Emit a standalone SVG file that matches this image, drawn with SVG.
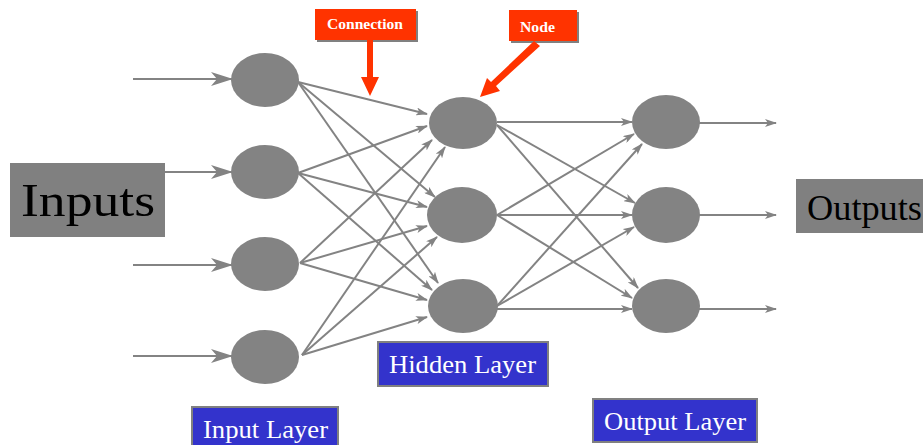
<svg xmlns="http://www.w3.org/2000/svg" width="923" height="445" viewBox="0 0 923 445">
  <style>
    .node { fill: #838383; }
    .link { stroke: #838383; stroke-width: 2; fill: none; }
    .label-box { fill: #808080; }
    .big { font-family: "Liberation Serif", serif; fill: #000; }
    .layer { fill: #3333CC; stroke: #808080; stroke-width: 2; }
    .layer-text { font-family: "Liberation Serif", serif; font-size: 25px; fill: #fff; }
    .callout { fill: #FF3300; }
    .callout-text { font-family: "Liberation Serif", serif; font-size: 14px; font-weight: bold; fill: #fff; }
  </style>
  <defs>
    <marker id="arrow" viewBox="0 0 12 8" refX="11" refY="4" markerWidth="12" markerHeight="8" markerUnits="userSpaceOnUse" orient="auto">
      <path d="M0,0 L12,4 L0,8 L3,4 z" fill="#838383"/>
    </marker>
    <marker id="barb" viewBox="0 0 22 14" refX="21" refY="7" markerWidth="22" markerHeight="14" markerUnits="userSpaceOnUse" orient="auto">
      <path d="M0,0 L22,7 L0,14 L6,7 z" fill="#838383"/>
    </marker>
  </defs>

  <rect width="923" height="445" fill="#fff"/>

  <!-- connectors -->
  <g id="connectors">
    <!-- external inputs -->
    <line class="link" x1="133" y1="79" x2="232" y2="79" marker-end="url(#barb)"/>
    <line class="link" x1="133" y1="172" x2="232" y2="172" marker-end="url(#barb)"/>
    <line class="link" x1="133" y1="265" x2="232" y2="265" marker-end="url(#barb)"/>
    <line class="link" x1="133" y1="356" x2="232" y2="356" marker-end="url(#barb)"/>
    <!-- input layer to hidden layer -->
    <line class="link" x1="298" y1="82" x2="427" y2="114" marker-end="url(#arrow)"/>
    <line class="link" x1="298" y1="82" x2="435" y2="197" marker-end="url(#arrow)"/>
    <line class="link" x1="298" y1="82" x2="438" y2="283" marker-end="url(#arrow)"/>
    <line class="link" x1="298" y1="173" x2="427" y2="126" marker-end="url(#arrow)"/>
    <line class="link" x1="298" y1="173" x2="427" y2="207" marker-end="url(#arrow)"/>
    <line class="link" x1="298" y1="173" x2="432" y2="290" marker-end="url(#arrow)"/>
    <line class="link" x1="300" y1="263" x2="432" y2="140" marker-end="url(#arrow)"/>
    <line class="link" x1="300" y1="263" x2="427" y2="226" marker-end="url(#arrow)"/>
    <line class="link" x1="300" y1="263" x2="427" y2="300" marker-end="url(#arrow)"/>
    <line class="link" x1="302" y1="355" x2="445" y2="147" marker-end="url(#arrow)"/>
    <line class="link" x1="302" y1="355" x2="437" y2="237" marker-end="url(#arrow)"/>
    <line class="link" x1="302" y1="355" x2="427" y2="317" marker-end="url(#arrow)"/>
    <!-- hidden layer to output layer -->
    <line class="link" x1="497" y1="122" x2="632" y2="122" marker-end="url(#arrow)"/>
    <line class="link" x1="497" y1="125" x2="635" y2="203" marker-end="url(#arrow)"/>
    <line class="link" x1="497" y1="125" x2="638" y2="288" marker-end="url(#arrow)"/>
    <line class="link" x1="497" y1="215" x2="634" y2="134" marker-end="url(#arrow)"/>
    <line class="link" x1="497" y1="215" x2="632" y2="215" marker-end="url(#arrow)"/>
    <line class="link" x1="497" y1="215" x2="632" y2="298" marker-end="url(#arrow)"/>
    <line class="link" x1="497" y1="306" x2="642" y2="144" marker-end="url(#arrow)"/>
    <line class="link" x1="497" y1="306" x2="634" y2="227" marker-end="url(#arrow)"/>
    <line class="link" x1="497" y1="309" x2="632" y2="309" marker-end="url(#arrow)"/>
    <!-- outputs -->
    <line class="link" x1="699" y1="123" x2="776" y2="123" marker-end="url(#arrow)"/>
    <line class="link" x1="699" y1="215" x2="776" y2="215" marker-end="url(#arrow)"/>
    <line class="link" x1="699" y1="309" x2="776" y2="309" marker-end="url(#arrow)"/>
  </g>

  <!-- input layer -->
  <g id="in1"><ellipse class="node" cx="265" cy="80" rx="34" ry="27"/></g>
  <g id="in2"><ellipse class="node" cx="265" cy="172" rx="34" ry="27"/></g>
  <g id="in3"><ellipse class="node" cx="265" cy="264" rx="34" ry="27"/></g>
  <g id="in4"><ellipse class="node" cx="265" cy="357" rx="34" ry="27"/></g>

  <!-- hidden layer -->
  <g id="hid1"><ellipse class="node" cx="463" cy="123" rx="34" ry="26"/></g>
  <g id="hid2"><ellipse class="node" cx="462" cy="215" rx="35" ry="28"/></g>
  <g id="hid3"><ellipse class="node" cx="463" cy="306" rx="35" ry="27"/></g>

  <!-- output layer -->
  <g id="out1"><ellipse class="node" cx="666" cy="122" rx="34" ry="27"/></g>
  <g id="out2"><ellipse class="node" cx="666" cy="215" rx="34" ry="28"/></g>
  <g id="out3"><ellipse class="node" cx="666" cy="306" rx="34" ry="27"/></g>

  <!-- side labels -->
  <g id="inputs">
    <rect class="label-box" x="10" y="163" width="155" height="74"/>
    <text class="big" x="21" y="216" font-size="47" textLength="134" lengthAdjust="spacingAndGlyphs">Inputs</text>
  </g>
  <g id="outputs">
    <rect class="label-box" x="796" y="179" width="127" height="54"/>
    <text class="big" x="807" y="220" font-size="36" textLength="115" lengthAdjust="spacingAndGlyphs">Outputs</text>
  </g>

  <!-- layer captions -->
  <g id="hidden-layer">
    <rect class="layer" x="378" y="342" width="170" height="44"/>
    <text class="layer-text" x="389" y="373" textLength="147" lengthAdjust="spacingAndGlyphs">Hidden Layer</text>
  </g>
  <g id="input-layer">
    <rect class="layer" x="192" y="407" width="146" height="44"/>
    <text class="layer-text" x="203" y="438" textLength="125" lengthAdjust="spacingAndGlyphs">Input Layer</text>
  </g>
  <g id="output-layer">
    <rect class="layer" x="593" y="399" width="164" height="43"/>
    <text class="layer-text" x="604" y="430" textLength="142" lengthAdjust="spacingAndGlyphs">Output Layer</text>
  </g>

  <!-- callouts -->
  <g id="connection-callout">
    <rect x="317" y="11" width="101" height="31" fill="#808080"/>
    <rect class="callout" x="315" y="9" width="101" height="31"/>
    <text class="callout-text" x="327" y="29" textLength="76" lengthAdjust="spacingAndGlyphs">Connection</text>
    <path class="callout" d="M367,40 L373,40 L373,77 L379,77 L370,96 L361,77 L367,77 z"/>
  </g>
  <g id="node-callout">
    <rect x="511" y="12" width="68" height="31" fill="#808080"/>
    <rect class="callout" x="509" y="10" width="68" height="31"/>
    <text class="callout-text" x="520" y="32" textLength="35" lengthAdjust="spacingAndGlyphs">Node</text>
    <path class="callout" d="M534,41 L540,46 L496,86 L500,91 L480,97 L487,78 L491,82 z"/>
  </g>
</svg>
